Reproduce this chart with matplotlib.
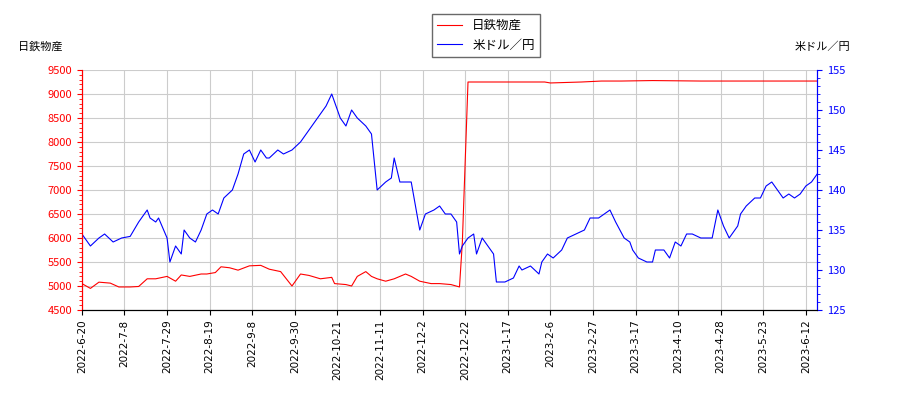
import matplotlib
matplotlib.use("Agg")
import matplotlib.pyplot as plt
from matplotlib.ticker import AutoMinorLocator

plt.rcParams['font.family'] = ['Noto Sans CJK JP', 'DejaVu Sans']

tick_labels = ["2022-6-20","2022-7-8","2022-7-29","2022-8-19","2022-9-8","2022-9-30",
               "2022-10-21","2022-11-11","2022-12-2","2022-12-22","2023-1-17","2023-2-6",
               "2023-2-27","2023-3-17","2023-4-10","2023-4-28","2023-5-23","2023-6-12"]

usd_day = [0,3,6,8,11,14,17,20,23,24,26,27,30,31,33,35,36,38,40,42,44,46,48,50,53,55,57,59,61,63,65,66,69,71,74,77,80,83,86,88,89,91,93,95,97,100,102,104,107,109,110,112,116,118,119,121,124,126,128,130,132,133,134,136,138,139,141,143,145,146,149,152,154,155,158,161,162,164,166,169,171,174,177,179,182,184,186,188,191,193,194,196,199,201,202,205,207,209,211,213,215,218,220,222,224,226,228,231,232,234,237,239,241,243,245,247,249,251,253,255,257,259]
usd_val = [134.5,133,134,134.5,133.5,134,134.2,136,137.5,136.5,136,136.5,134,131,133,132,135,134,133.5,135,137,137.5,137,139,140,142,144.5,145,143.5,145,144,144,145,144.5,145,146,147.5,149,150.5,152,151,149,148,150,149,148,147,140,141,141.5,144,141,141,137,135,137,137.5,138,137,137,136,132,133,134,134.5,132,134,133,132,128.5,128.5,129,130.5,130,130.5,129.5,131,132,131.5,132.5,134,134.5,135,136.5,136.5,137,137.5,136,134,133.5,132.5,131.5,131,131,132.5,132.5,131.5,133.5,133,134.5,134.5,134,134,134,137.5,135.5,134,135.5,137,138,139,139,140.5,141,140,139,139.5,139,139.5,140.5,141,142]

stock_day = [0,3,6,10,13,17,20,23,26,30,33,35,38,42,44,47,49,52,55,59,63,66,70,72,74,77,80,84,88,89,93,95,97,100,102,104,107,110,114,116,119,123,126,130,133,134,136,163,165,176,183,190,201,218,236,253,259]
stock_val = [5050,4950,5080,5060,4980,4980,4990,5150,5150,5200,5100,5230,5200,5250,5250,5280,5400,5380,5330,5420,5430,5350,5300,5150,5000,5250,5220,5150,5180,5050,5030,5000,5200,5300,5200,5150,5100,5150,5250,5200,5100,5050,5050,5030,4980,5900,9250,9250,9230,9250,9270,9270,9280,9270,9270,9270,9270]

fig = plt.figure(figsize=(9, 4), dpi=100)
ax = fig.add_axes([0.091, 0.225, 0.817, 0.6])
ax.plot(stock_day, stock_val, color='red', lw=0.8, label='日鉄物産')
ax.set_ylim(4500, 9500)
ax.set_yticks(range(4500, 9501, 500))
ax.yaxis.set_minor_locator(AutoMinorLocator(5))
ax.set_xlim(0, 259)
ax.set_xticks(range(0, 259, 15))
ax.set_xticklabels(tick_labels, rotation=90, fontsize=7.5, family=['DejaVu Sans'])
ax.tick_params(axis='y', which='both', labelsize=8, colors='red')
ax.grid(True, color='#cccccc', lw=0.8)
ax2 = ax.twinx()
ax2.plot(usd_day, usd_val, color='blue', lw=0.8, label='米ドル／円')
ax2.set_ylim(125, 155)
ax2.set_yticks(range(125, 156, 5))
ax2.yaxis.set_minor_locator(AutoMinorLocator(5))
ax2.tick_params(axis='y', which='both', labelsize=8, colors='blue')
for a in (ax, ax2):
    a.spines['left'].set_color('red')
    a.spines['right'].set_color('blue')
    a.spines['top'].set_visible(False)
fig.text(0.02, 0.875, '日鉄物産', fontsize=8)
fig.text(0.945, 0.875, '米ドル／円', fontsize=8, ha='right')
h1, l1 = ax.get_legend_handles_labels()
h2, l2 = ax2.get_legend_handles_labels()
fig.legend(h1 + h2, l1 + l2, loc='upper center', bbox_to_anchor=(0.54, 0.98), fontsize=9, fancybox=False, edgecolor='#444444')
fig.savefig('out.png')
